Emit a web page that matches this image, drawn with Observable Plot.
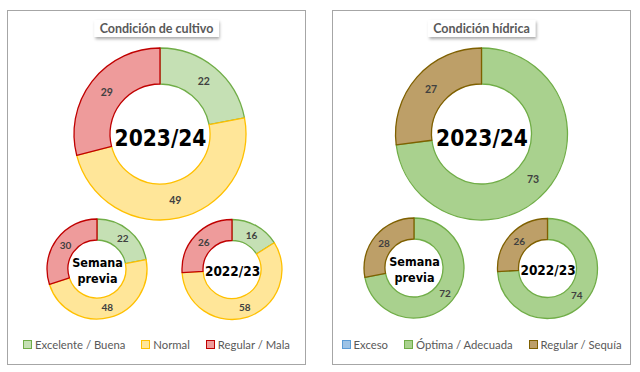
<!DOCTYPE html>
<html><head><meta charset="utf-8">
<script src="https://cdn.jsdelivr.net/npm/d3@7"></script>
<script src="https://cdn.jsdelivr.net/npm/@observablehq/plot@0.6"></script>
<style>
html,body{margin:0;padding:0;background:#fff;}
body{width:640px;height:372px;position:relative;overflow:hidden;font-family:Lato,"Open Sans",sans-serif;}
.panel{position:absolute;top:10px;width:299px;height:355px;box-sizing:border-box;border:1px solid #a6a6a6;background:#fff;}
.panel svg{position:absolute;left:0;top:0;}
.title{position:absolute;top:9px;left:50%;transform:translateX(-50%);background:#fff;padding:0 6px;height:17px;line-height:17px;font-size:12.5px;font-weight:bold;color:#595959;white-space:nowrap;box-shadow:1px 2px 3px rgba(0,0,0,0.35);z-index:2;}
.legend{position:absolute;top:327px;left:0;right:0;display:flex;justify-content:center;gap:16px;font-size:11.3px;color:#595959;white-space:nowrap;z-index:2;}
.legend .item{display:flex;align-items:center;gap:3px;}
.legend .sw{width:7px;height:7px;border:1px solid;display:inline-block;}
</style></head>
<body>
<div class="panel" id="p1" style="left:7px"></div>
<div class="panel" id="p2" style="left:332px"></div>
<script>
// ---- data ----
const cultivoTitle = "Condición de cultivo";
const cultivoCategories = ["Excelente / Buena", "Normal", "Regular / Mala"];
const cultivoActual = [22, 49, 29];
const cultivoPrevia = [22, 48, 30];
const cultivoAnterior = [16, 58, 26];

const hidricaTitle = "Condición hídrica";
const hidricaCategories = ["Exceso", "Óptima / Adecuada", "Regular / Sequía"];
const hidricaActual = [0, 73, 27];
const hidricaPrevia = [0, 72, 28];
const hidricaAnterior = [0, 74, 26];

const donutNames = ["2023/24", "Semana\nprevia", "2022/23"];

// ---- style ----
const cultivoFill = ["#c5e0b4", "#ffe699", "#ee9b9b"];
const cultivoStroke = ["#70ad47", "#ffc000", "#c00000"];
const hidricaFill = ["#9dc3e6", "#a9d18e", "#bd9f68"];
const hidricaStroke = ["#5b9bd5", "#70ad47", "#7f6000"];

function drawPanel(el, title, categories, seriesList, fills, strokes, layout) {
  const W = 297, H = 353;
  const pie = d3.pie().sort(null).value(d => d);
  const slices = [];
  const centers = [];
  seriesList.forEach((vals, k) => {
    const L = layout[k];
    centers.push({name: donutNames[k], cx: L.cx, cy: L.cy + L.ty, size: L.fs});
    pie(vals).forEach((a, i) => {
      slices.push({
        donut: k, category: categories[i], value: vals[i],
        startAngle: a.startAngle, endAngle: a.endAngle,
        cx: L.cx, cy: L.cy, r0: L.r0, r1: L.r1
      });
    });
  });
  const visible = slices.filter(d => d.value > 0);
  const strokeOf = new Map(categories.map((c, i) => [c, strokes[i]]));
  const arc = d3.arc();
  const svg = Plot.plot({
    width: W, height: H, margin: 0,
    style: {background: "transparent", overflow: "visible"},
    x: {type: "identity", axis: null}, y: {type: "identity", axis: null},
    color: {domain: categories, range: fills},
    marks: [
      Plot.dot(visible, {
        x: "cx", y: "cy", fill: "category",
        render(index, scales, values) {
          const g = d3.create("svg:g");
          for (const i of index) {
            const d = visible[i];
            g.append("path")
              .attr("transform", `translate(${values.x[i]},${values.y[i]})`)
              .attr("d", arc({innerRadius: d.r0, outerRadius: d.r1, startAngle: d.startAngle, endAngle: d.endAngle}))
              .attr("fill", values.fill[i])
              .attr("stroke", strokeOf.get(d.category))
              .attr("stroke-width", 1.3)
              .attr("stroke-linejoin", "round");
          }
          return g.node();
        }
      }),
      Plot.text(visible, {
        x: d => d.cx + (d.r0 + d.r1) / 2 * Math.sin((d.startAngle + d.endAngle) / 2),
        y: d => d.cy - (d.r0 + d.r1) / 2 * Math.cos((d.startAngle + d.endAngle) / 2),
        text: d => String(d.value),
        fontSize: d => d.r1 > 70 ? 10.5 : 10,
        fontWeight: "bold", fill: "#404040",
        fontFamily: "Lato, 'Open Sans', sans-serif"
      }),
      Plot.text(centers, {
        x: "cx", y: "cy", text: "name",
        fontSize: "size", fontWeight: "bold", fill: "#000",
        fontFamily: "'DejaVu Sans Condensed', 'DejaVu Sans', sans-serif",
        lineHeight: 1.25
      })
    ]
  });
  el.appendChild(svg);
  const t = document.createElement("div");
  t.className = "title"; t.textContent = title;
  el.appendChild(t);
  const lg = document.createElement("div");
  lg.className = "legend";
  categories.forEach((c, i) => {
    const it = document.createElement("span"); it.className = "item";
    const sw = document.createElement("span"); sw.className = "sw";
    sw.style.background = fills[i]; sw.style.borderColor = strokes[i];
    it.appendChild(sw);
    it.appendChild(document.createTextNode(c));
    lg.appendChild(it);
  });
  el.appendChild(lg);
}

drawPanel(document.getElementById("p1"), cultivoTitle, cultivoCategories,
  [cultivoActual, cultivoPrevia, cultivoAnterior], cultivoFill, cultivoStroke,
  [{cx: 152, cy: 123, r0: 50, r1: 86, fs: 22.5, ty: 2.5},
   {cx: 89, cy: 258, r0: 29, r1: 50, fs: 12.5, ty: 0.5},
   {cx: 224, cy: 258.5, r0: 29, r1: 50, fs: 13.5, ty: 0.5}]);

drawPanel(document.getElementById("p2"), hidricaTitle, hidricaCategories,
  [hidricaActual, hidricaPrevia, hidricaAnterior], hidricaFill, hidricaStroke,
  [{cx: 148.5, cy: 123, r0: 50, r1: 86, fs: 22.5, ty: 2.5},
   {cx: 81, cy: 257, r0: 29, r1: 50, fs: 12.5, ty: 0.5},
   {cx: 214.5, cy: 257.5, r0: 29, r1: 50, fs: 13.5, ty: 0.5}]);
</script>
</body></html>
